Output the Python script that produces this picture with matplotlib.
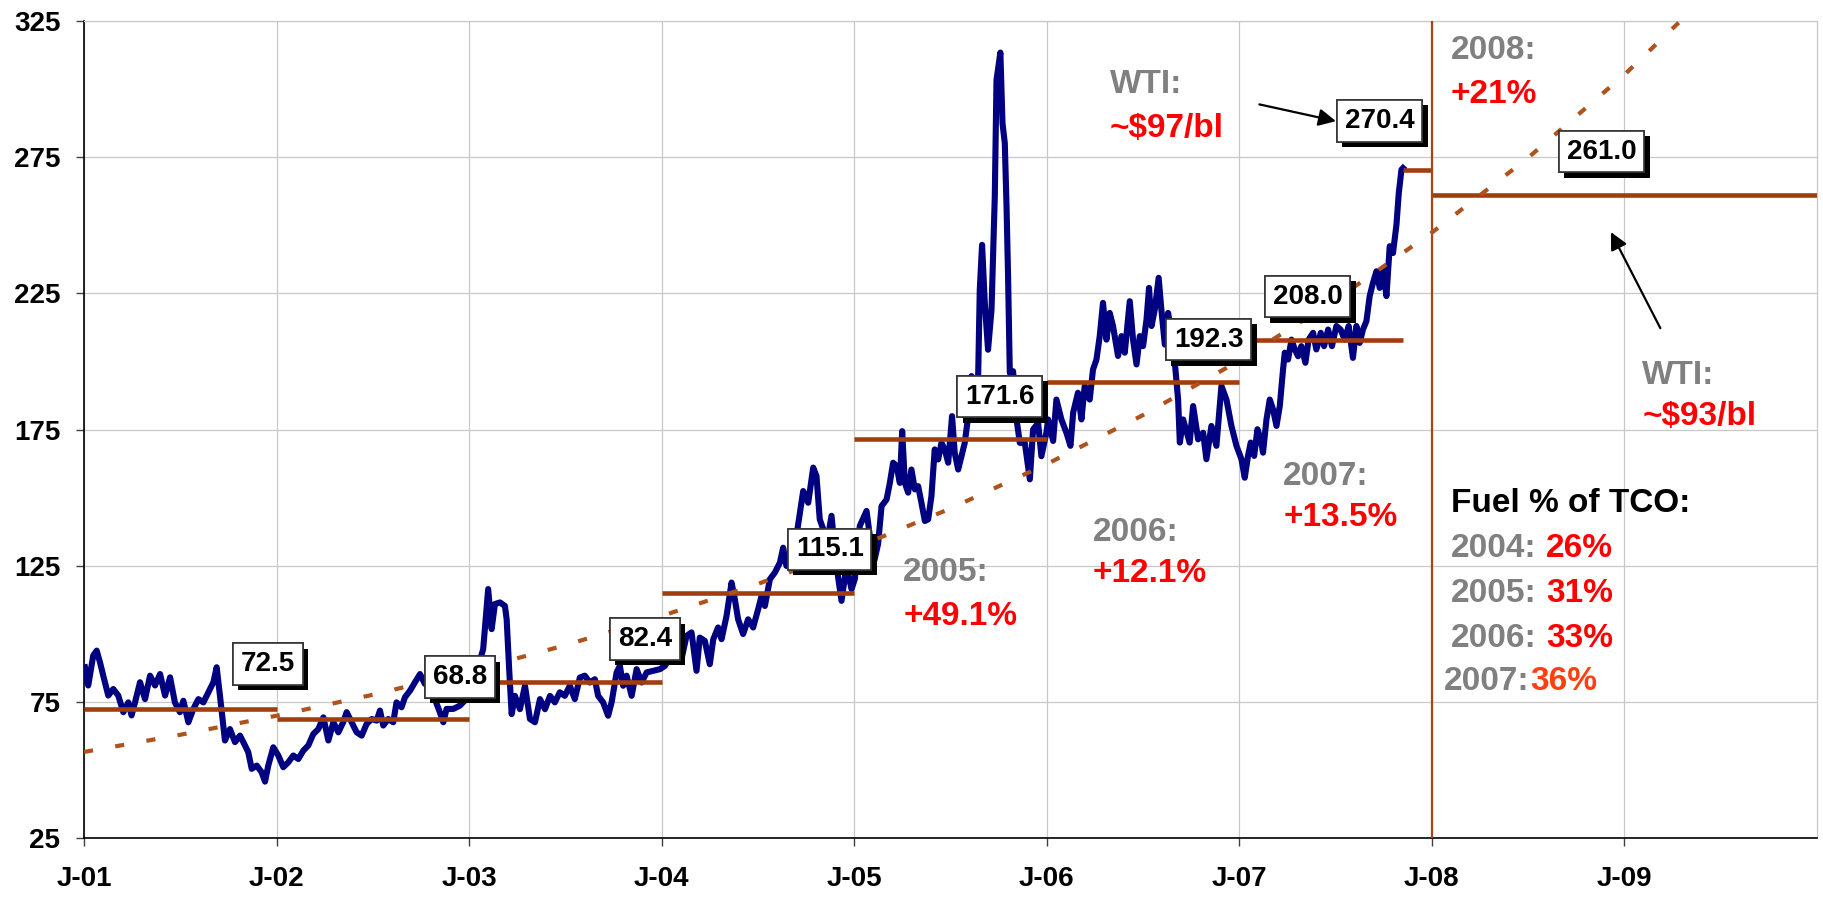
import matplotlib
matplotlib.use('Agg')
import matplotlib.pyplot as plt
from matplotlib import font_manager
import matplotlib.patheffects as pe

# ---------------- data ----------------
price_years = [
    2001.005, 2001.022, 2001.048, 2001.066, 2001.083, 2001.100, 2001.126, 2001.152, 2001.178, 2001.204,
    2001.230, 2001.247, 2001.265, 2001.291, 2001.317, 2001.343, 2001.369, 2001.395, 2001.421, 2001.447,
    2001.472, 2001.498, 2001.516, 2001.542, 2001.568, 2001.594, 2001.620, 2001.646, 2001.672, 2001.689,
    2001.706, 2001.723, 2001.732, 2001.758, 2001.784, 2001.810, 2001.836, 2001.853, 2001.871, 2001.897,
    2001.922, 2001.940, 2001.957, 2001.983, 2002.009, 2002.035, 2002.061, 2002.087, 2002.113, 2002.139,
    2002.165, 2002.191, 2002.217, 2002.243, 2002.269, 2002.295, 2002.321, 2002.346, 2002.364, 2002.390,
    2002.416, 2002.442, 2002.468, 2002.494, 2002.520, 2002.537, 2002.554, 2002.580, 2002.606, 2002.623,
    2002.649, 2002.667, 2002.693, 2002.719, 2002.745, 2002.770, 2002.796, 2002.822, 2002.848, 2002.866,
    2002.883, 2002.918, 2002.952, 2002.985, 2003.030, 2003.055,
    2003.073, 2003.099, 2003.117, 2003.134, 2003.160, 2003.186, 2003.195, 2003.208, 2003.221, 2003.238,
    2003.264, 2003.290, 2003.316, 2003.342, 2003.368, 2003.394, 2003.420, 2003.445, 2003.471, 2003.497,
    2003.523, 2003.549, 2003.575, 2003.601, 2003.627, 2003.653, 2003.670, 2003.696, 2003.722, 2003.740,
    2003.766, 2003.783, 2003.800, 2003.818, 2003.844, 2003.870, 2003.896, 2003.922, 2003.956, 2003.991,
    2004.017, 2004.043, 2004.077, 2004.103, 2004.129, 2004.155, 2004.181, 2004.198, 2004.224, 2004.250,
    2004.268, 2004.293, 2004.311, 2004.337, 2004.363, 2004.380, 2004.397, 2004.423, 2004.449, 2004.475,
    2004.501, 2004.519, 2004.536, 2004.562, 2004.588, 2004.614, 2004.631, 2004.648, 2004.674, 2004.692,
    2004.718, 2004.735, 2004.761, 2004.787, 2004.804, 2004.821, 2004.839, 2004.856, 2004.882, 2004.908,
    2004.934, 2004.960, 2004.986, 2005.003, 2005.029, 2005.064,
    2005.081, 2005.105, 2005.124, 2005.142, 2005.168, 2005.185, 2005.202, 2005.220, 2005.237, 2005.249,
    2005.263, 2005.280, 2005.297, 2005.315, 2005.332, 2005.349, 2005.367, 2005.384, 2005.401, 2005.418,
    2005.436, 2005.453, 2005.470, 2005.488, 2005.508, 2005.522, 2005.540, 2005.557, 2005.574, 2005.592,
    2005.609, 2005.626, 2005.643, 2005.652, 2005.664, 2005.678, 2005.695, 2005.713, 2005.730, 2005.739,
    2005.759, 2005.770, 2005.782, 2005.791, 2005.799, 2005.808, 2005.825, 2005.843, 2005.860, 2005.886,
    2005.912, 2005.929, 2005.955, 2005.972, 2005.998,
    2006.007, 2006.033, 2006.050, 2006.076, 2006.102, 2006.123, 2006.137, 2006.162, 2006.180, 2006.197,
    2006.223, 2006.240, 2006.258, 2006.275, 2006.292, 2006.310, 2006.327, 2006.344, 2006.370, 2006.388,
    2006.405, 2006.431, 2006.448, 2006.466, 2006.483, 2006.500, 2006.518, 2006.531, 2006.544, 2006.561,
    2006.581, 2006.595, 2006.613, 2006.630, 2006.647, 2006.665, 2006.682, 2006.691, 2006.708, 2006.742,
    2006.760, 2006.786, 2006.812, 2006.829, 2006.855, 2006.881, 2006.907, 2006.933, 2006.959, 2006.985,
    2007.011, 2007.028, 2007.045, 2007.059, 2007.077, 2007.094, 2007.111, 2007.123, 2007.141, 2007.158,
    2007.175, 2007.193, 2007.210, 2007.227, 2007.236, 2007.253, 2007.271, 2007.288, 2007.305, 2007.322,
    2007.343, 2007.360, 2007.383, 2007.400, 2007.423, 2007.440, 2007.461, 2007.481, 2007.504, 2007.526,
    2007.547, 2007.568, 2007.590, 2007.608, 2007.625, 2007.642, 2007.660, 2007.677, 2007.694, 2007.712,
    2007.729, 2007.746, 2007.764, 2007.781, 2007.798, 2007.816, 2007.828, 2007.842, 2007.850,
]
price_values = [
    87.7, 81.0, 92.0, 93.8, 89.5, 84.6, 77.3, 79.7, 77.3, 71.2,
    74.8, 70.0, 74.8, 82.2, 76.0, 84.6, 81.0, 85.2, 77.3, 84.0,
    74.8, 71.2, 75.4, 67.5, 72.4, 76.0, 74.8, 78.5, 82.2, 87.7,
    77.3, 66.3, 60.8, 65.0, 60.2, 62.6, 59.0, 56.5, 50.4, 51.6,
    49.2, 45.7, 51.6, 58.3, 55.3, 51.0, 52.8, 55.3, 54.0, 57.1,
    59.0, 63.2, 65.0, 69.3, 60.8, 67.5, 63.8, 67.5, 71.2, 67.5,
    63.8, 62.6, 66.9, 68.7, 68.1, 71.8, 66.3, 68.7, 67.5, 74.8,
    73.0, 76.7, 79.1, 82.2, 85.2, 81.6, 82.8, 76.0, 71.2, 67.5,
    72.4, 72.4, 73.6, 76.0, 84.0, 90.0,
    94.3, 116.4, 101.7, 110.9, 111.5, 110.2, 105.3, 87.0, 70.5, 77.2,
    72.3, 80.9, 68.7, 67.5, 76.0, 72.3, 77.2, 74.8, 78.5, 77.2,
    80.9, 76.0, 83.9, 84.6, 82.1, 83.3, 77.2, 74.8, 69.9, 74.8,
    85.8, 88.2, 80.9, 84.6, 77.2, 87.0, 82.1, 85.8, 86.4, 87.0,
    88.2, 91.3, 94.3, 90.7, 99.2, 100.5, 86.4, 98.6, 97.4, 88.8,
    98.0, 102.3, 98.0, 106.6, 118.8, 112.7, 105.3, 99.9, 105.3, 102.3,
    109.0, 113.9, 110.2, 120.0, 122.5, 126.1, 131.6, 124.9, 128.6, 132.2,
    144.5, 152.4, 148.1, 161.0, 157.9, 142.0, 138.4, 132.2, 143.3, 124.9,
    112.1, 124.9, 116.4, 120.0, 139.6, 145.1,
    136.0, 127.0, 133.0, 146.9, 149.3, 155.4, 162.8, 161.6, 155.4, 174.4,
    155.4, 151.8, 160.3, 153.0, 154.2, 148.1, 141.4, 142.0, 150.5, 167.7,
    164.0, 170.1, 167.7, 162.8, 179.9, 166.4, 160.3, 165.2, 170.1, 179.9,
    194.6, 181.1, 192.1, 226.3, 242.8, 221.5, 204.3, 219.0, 260.6, 303.4,
    313.4, 287.5, 280.1, 256.9, 231.2, 195.8, 196.4, 178.7, 170.1, 170.1,
    156.7, 175.0, 177.4, 165.2, 173.8,
    178.7, 170.8, 186.0, 178.7, 173.8, 169.0, 181.2, 188.5, 178.7, 191.0,
    186.0, 197.0, 200.7, 209.3, 221.5, 208.0, 217.8, 213.0, 202.0, 209.3,
    203.2, 222.1, 208.0, 198.9, 209.3, 205.6, 215.4, 227.0, 213.0, 219.1,
    230.7, 219.1, 206.2, 217.8, 210.5, 199.5, 186.0, 170.2, 178.7, 170.2,
    183.6, 171.4, 173.8, 164.1, 176.3, 169.0, 191.0, 186.0, 176.3, 169.0,
    164.1, 157.3, 165.3, 170.2, 165.3, 175.1, 171.4, 166.5, 178.7, 186.0,
    182.4, 176.3, 183.6, 197.0, 203.2, 200.7, 208.0, 204.4, 201.9, 205.6,
    199.5, 208.0, 210.5, 204.4, 210.5, 205.6, 211.7, 205.6, 213.0, 211.7,
    208.0, 213.0, 201.3, 213.0, 206.8, 211.7, 214.8, 224.0, 228.8, 233.1,
    227.0, 233.7, 224.0, 242.3, 239.8, 250.2, 261.8, 270.4, 271.0,
]

avg_labels = ['72.5', '68.8', '82.4', '115.1', '171.6', '192.3', '208.0', '270.4', '261.0']
avg_values = [72.5, 68.8, 82.4, 115.1, 171.6, 192.3, 208.0, 270.4, 261.0]
avg_start = [2001.0, 2002.0, 2003.0, 2004.0, 2005.0, 2006.0, 2007.0, 2007.85, 2008.0]
avg_end = [2002.0, 2003.0, 2004.0, 2005.0, 2006.0, 2007.0, 2007.85, 2008.0, 2010.0]

trend_years = [2001.0, 2001.5, 2002.0, 2002.5, 2003.0, 2003.5, 2004.0, 2004.5, 2005.0,
               2005.5, 2006.0, 2006.5, 2007.0, 2007.5, 2008.0, 2008.5, 2009.0, 2009.5]
trend_values = [56.6, 62.9, 69.9, 77.6, 86.2, 95.8, 106.5, 118.3, 131.4,
                146.0, 162.3, 180.3, 200.3, 222.6, 247.3, 274.8, 305.3, 339.2]

x_ticks = [2001, 2002, 2003, 2004, 2005, 2006, 2007, 2008, 2009]
x_tick_labels = ['J-01', 'J-02', 'J-03', 'J-04', 'J-05', 'J-06', 'J-07', 'J-08', 'J-09']
y_ticks = [25, 75, 125, 175, 225, 275, 325]
y_tick_labels = ['25', '75', '125', '175', '225', '275', '325']

fuel_years = ['2004:', '2005:', '2006:', '2007:']
fuel_shares = ['26%', '31%', '33%', '36%']

# ---------------- style ----------------
families = {f.name for f in font_manager.fontManager.ttflist}
MAIN = 'Liberation Sans' if 'Liberation Sans' in families else 'DejaVu Sans'

NAVY = '#000080'
RUST = '#A23E0E'
TREND = '#B0521C'
GRAY = '#808080'
RED = '#FF0000'
ORANGE_RED = '#FF3F0F'

fig = plt.figure(figsize=(18.23, 9.02), dpi=100)
ax = fig.add_axes([84 / 1823, 1 - 838 / 902, (1817 - 84) / 1823, (838 - 21) / 902])

ax.set_xlim(2001, 2010)
ax.set_ylim(25, 325)
ax.set_xticks(x_ticks)
ax.set_xticklabels(x_tick_labels, fontsize=20, fontweight='bold', family=MAIN)
ax.set_yticks(y_ticks)
ax.set_yticklabels(y_tick_labels, fontsize=20, fontweight='bold', family=MAIN)
ax.grid(True, color='#C8C8C8', lw=0.9)
ax.set_axisbelow(True)

for s in ['left', 'bottom']:
    ax.spines[s].set_color('black')
    ax.spines[s].set_linewidth(1.2)
for s in ['top', 'right']:
    ax.spines[s].set_color('#C8C8C8')
    ax.spines[s].set_linewidth(0.9)

ax.tick_params(axis='both', direction='out', length=6, width=1.0, color='#404040')
ax.tick_params(axis='x', pad=14)
ax.tick_params(axis='y', pad=11)

# series
ax.plot(price_years, price_values, color=NAVY, lw=4.4, zorder=3, solid_joinstyle='round')
for s, e, v in zip(avg_start, avg_end, avg_values):
    ax.plot([s, e], [v, v], color=RUST, lw=3.3, zorder=4, solid_capstyle='butt')
ax.plot(trend_years, trend_values, color=TREND, lw=3.0, dashes=(2.2, 5.4), zorder=5)
ax.axvline(2008, color='#A5461A', lw=1.6, zorder=4)

# value boxes
box_pos = [(2001.955, 88.8), (2002.952, 84.1), (2003.913, 98.0), (2004.873, 131.0),
           (2005.756, 187.1), (2006.841, 208.0), (2007.355, 223.8), (2007.729, 288.3),
           (2008.882, 277.0)]
for lbl, (bx, by) in zip(avg_labels, box_pos):
    t = ax.text(bx, by, lbl, ha='center', va='center', fontsize=20, fontweight='bold',
                family=MAIN, color='black', zorder=10,
                bbox=dict(boxstyle='square,pad=0.28', fc='white', ec='#333333', lw=1.2))
    t.get_bbox_patch().set_path_effects(
        [pe.withSimplePatchShadow(offset=(3.8, -3.8), shadow_rgbFace='black', alpha=1.0),
         pe.Normal()])

# annotations
def txt(x, y, s, color, size=24):
    return ax.text(x, y, s, color=color, fontsize=size, fontweight='bold', family=MAIN,
                   ha='left', va='baseline', zorder=9)

txt(2006.327, 298.6, 'WTI:', GRAY)
txt(2006.327, 282.5, '~$97/bl', RED)
txt(2008.098, 311.1, '2008:', GRAY)
txt(2008.098, 294.9, '+21%', RED)
txt(2009.093, 191.6, 'WTI:', GRAY)
txt(2009.093, 176.7, '~$93/bl', RED)
txt(2005.254, 119.3, '2005:', GRAY)
txt(2005.254, 103.3, '+49.1%', RED)
txt(2006.238, 134.0, '2006:', GRAY)
txt(2006.238, 119.1, '+12.1%', RED)
txt(2007.228, 154.5, '2007:', GRAY)
txt(2007.228, 139.6, '+13.5%', RED)

txt(2008.098, 144.6, 'Fuel % of TCO:', 'black')
row_pos = [(2008.098, 128.1), (2008.098, 111.6), (2008.098, 95.1), (2008.062, 79.3)]
for i, (yr, sh) in enumerate(zip(fuel_years, fuel_shares)):
    rx, ry = row_pos[i]
    t1 = txt(rx, ry, yr, GRAY)
    last = i == len(fuel_years) - 1
    ax.annotate(sh, xy=(1, 0), xycoords=t1, xytext=(0.5 if last else 7, 0),
                textcoords='offset points', ha='left', va='bottom',
                color=ORANGE_RED if last else RED, fontsize=24, fontweight='bold',
                family=MAIN, zorder=9)

# arrows
ax.annotate('', xy=(2007.516, 288.0), xytext=(2007.090, 294.6),
            arrowprops=dict(arrowstyle='-|>', color='black', lw=1.6, mutation_scale=26),
            zorder=9)
ax.annotate('', xy=(2008.923, 248.4), xytext=(2009.193, 211.3),
            arrowprops=dict(arrowstyle='-|>', color='black', lw=1.6, mutation_scale=26),
            zorder=9)

fig.savefig('out.png', dpi=100)
